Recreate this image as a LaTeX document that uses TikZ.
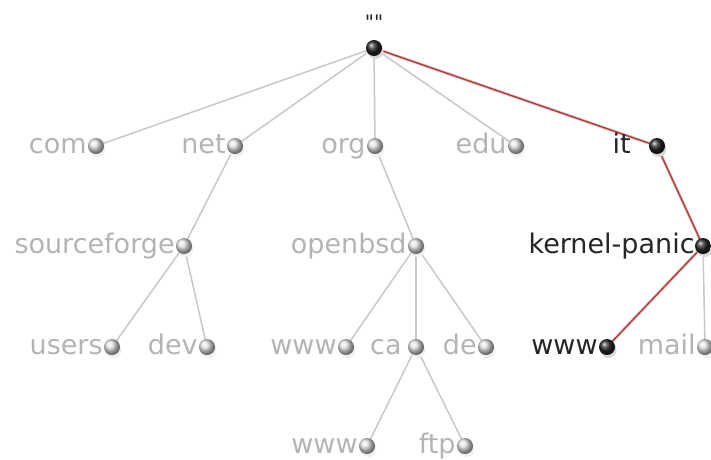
\documentclass[tikz,border=0pt]{standalone}
\usepackage{fontspec}
\setmainfont{DejaVu Sans}
\newfontfamily\qfont{DejaVu Sans}[Ligatures=TeXOff]
\usetikzlibrary{backgrounds}
\definecolor{gtext}{HTML}{B4B4B4}
\definecolor{gline}{HTML}{C8C8C8}
\definecolor{rline}{HTML}{A83A3A}
\definecolor{rhalo}{HTML}{EBC0C0}
\begin{document}
\begin{tikzpicture}[x=1pt,y=-1pt,
  gdot/.style={circle,minimum size=16pt,inner sep=0pt,shading=ball,ball color=gray!22},
  bdot/.style={circle,minimum size=16pt,inner sep=0pt,shading=ball,ball color=black!85},
  glab/.style={inner sep=0pt,anchor=base east,text=gtext,font=\fontsize{27}{30}\selectfont},
  blab/.style={inner sep=0pt,anchor=base east,text=black!85,font=\fontsize{27}{30}\selectfont},
  gedge/.style={draw=gline,line width=1.5pt},
  redge/.style={draw=rhalo,line width=3pt,postaction={draw=rline,line width=1.3pt}}
]
\useasboundingbox (0,0) rectangle (711,459);
% shadows
\foreach \x/\y in {374/48,657/146,703/246,607/347}{
  \fill[black!15] (\x+1.5,\y+3) circle (8);
}
\foreach \x/\y in {96/146,235/146,375/146,516/146,184/246,416/246,112/347,207/347,346/347,416/347,486/347,705/347,367/446,465/446}{
  \fill[black!6] (\x+1.5,\y+3) circle (8);
}
% dots
\node[bdot] (root) at (374,48) {};
\node[gdot] (com) at (96,146) {};
\node[gdot] (net) at (235,146) {};
\node[gdot] (org) at (375,146) {};
\node[gdot] (edu) at (516,146) {};
\node[bdot] (it) at (657,146) {};
\node[gdot] (sf) at (184,246) {};
\node[gdot] (obsd) at (416,246) {};
\node[bdot] (kp) at (703,246) {};
\node[gdot] (users) at (112,347) {};
\node[gdot] (dev) at (207,347) {};
\node[gdot] (wwwo) at (346,347) {};
\node[gdot] (ca) at (416,347) {};
\node[gdot] (de) at (486,347) {};
\node[bdot] (wwwb) at (607,347) {};
\node[gdot] (mail) at (705,347) {};
\node[gdot] (wwwc) at (367,446) {};
\node[gdot] (ftp) at (465,446) {};
% labels
\node[inner sep=0pt,text=black!85,font=\qfont\fontsize{20}{22}\selectfont] (root-l) at (374,22) {""};
\node[glab] (com-l) at ([shift={(-1,7.5)}]com.west) {com};
\node[glab] (net-l) at ([shift={(-1,7.5)}]net.west) {net};
\node[glab] (org-l) at ([shift={(-1,7.5)}]org.west) {org};
\node[glab] (edu-l) at ([shift={(-1,7.5)}]edu.west) {edu};
\node[blab] (it-l) at ([shift={(-18,7.5)}]it.west) {it};
\node[glab] (sf-l) at ([shift={(-1,7.5)}]sf.west) {sourceforge};
\node[glab] (obsd-l) at ([shift={(-1,7.5)}]obsd.west) {openbsd};
\node[blab] (kp-l) at ([shift={(0,7.5)}]kp.west) {kernel-panic};
\node[glab] (users-l) at ([shift={(-1,7.5)}]users.west) {users};
\node[glab] (dev-l) at ([shift={(-1,7.5)}]dev.west) {dev};
\node[glab] (wwwo-l) at ([shift={(-1,7.5)}]wwwo.west) {www};
\node[glab] (ca-l) at ([shift={(-6,7.5)}]ca.west) {ca};
\node[glab] (de-l) at ([shift={(-1,7.5)}]de.west) {de};
\node[blab] (wwwb-l) at ([shift={(-1,7.5)}]wwwb.west) {www};
\node[glab] (mail-l) at ([shift={(-1,7.5)}]mail.west) {mail};
\node[glab] (wwwc-l) at ([shift={(-1,7.5)}]wwwc.west) {www};
\node[glab] (ftp-l) at ([shift={(-1,7.5)}]ftp.west) {ftp};
% edges
\begin{pgfonlayer}{background}
\foreach \a/\b in {root/com,root/net,root/org,root/edu,net/sf,sf/users,sf/dev,org/obsd,obsd/wwwo,obsd/ca,obsd/de,ca/wwwc,ca/ftp,kp/mail}{
  \path[gedge] (\a.center) -- (\b.center);
}
\foreach \a/\b in {root/it,it/kp,kp/wwwb}{
  \path[redge] (\a.center) -- (\b.center);
}
\end{pgfonlayer}
\end{tikzpicture}
\end{document}
